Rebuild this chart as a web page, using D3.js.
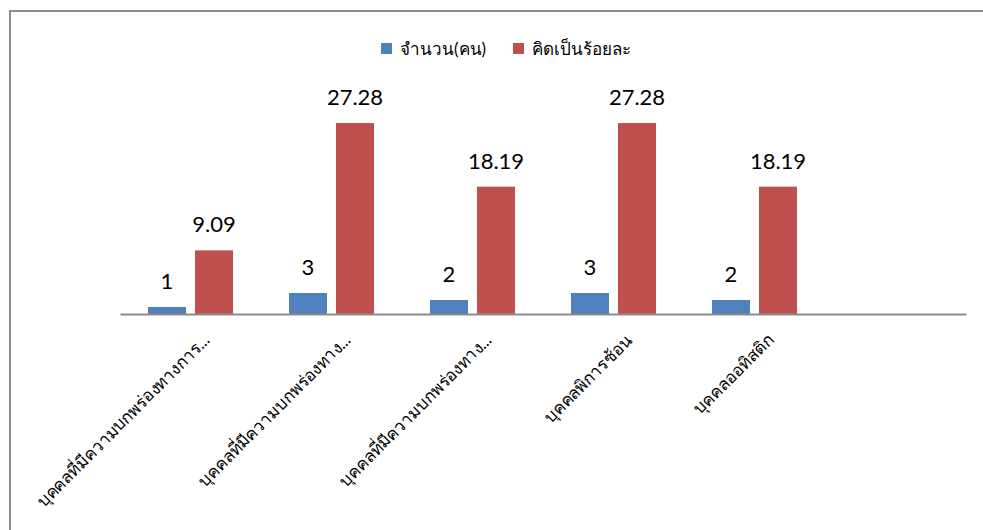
<!DOCTYPE html>
<html>
<head>
<meta charset="utf-8">
<script src="https://cdn.jsdelivr.net/npm/d3@7"></script>
<style>
  body { margin: 0; background: #fff; }
  text { font-family: Lato, "Noto Sans", "DejaVu Sans", sans-serif; }
</style>
</head>
<body>
<div id="chart"></div>
<script>
// Data
const categories = [
    "บุคคลที่มีความบกพร่องทางการ...",
    "บุคคลที่มีความบกพร่องทาง...",
    "บุคคลที่มีความบกพร่องทาง...",
    "บุคคลพิการซ้อน",
    "บุคคลออทิสติก",
    ""
];
const seriesNames = ["จำนวน(คน)", "คิดเป็นร้อยละ"];
const countValues = [1, 3, 2, 3, 2, null];
const percentValues = [9.09, 27.28, 18.19, 27.28, 18.19, null];
const percentLabels = ["9.09", "27.28", "18.19", "27.28", "18.19", ""];
const colors = ["#4F81BD", "#C0504D"];

const W = 983, H = 530;
const svg = d3.select("#chart")
    .append("svg")
    .attr("width", W)
    .attr("height", H);

// Outer frame
svg.append("rect")
    .attr("x", 10).attr("y", 11)
    .attr("width", 990).attr("height", 540)
    .attr("fill", "none")
    .attr("stroke", "#8c8c8c")
    .attr("stroke-width", 2);

const plot = { left: 120, right: 966, top: 104, bottom: 314 };

const x = d3.scaleBand()
    .domain(d3.range(categories.length))
    .range([plot.left, plot.right]);

const y = d3.scaleLinear()
    .domain([0, 30])
    .range([plot.bottom, plot.top]);

// bar layout inside each band
const barW = 38, gap = 9;
const offsets = [x.bandwidth() / 2 - gap / 2 - barW, x.bandwidth() / 2 + gap / 2];

const rows = categories.map((c, i) => ({ i, values: [countValues[i], percentValues[i]] }));

rows.forEach(r => {
    r.values.forEach((v, s) => {
        if (v == null) return;
        svg.append("rect")
            .attr("x", x(r.i) + offsets[s])
            .attr("y", y(v))
            .attr("width", barW)
            .attr("height", y(0) - y(v))
            .attr("fill", colors[s]);
        svg.append("text")
            .attr("x", x(r.i) + offsets[s] + barW / 2)
            .attr("y", y(v) - 18)
            .attr("text-anchor", "middle")
            .style("font-size", "22px")
            .style("fill", "#000")
            .text(s === 0 ? String(v) : percentLabels[r.i]);
    });
});

// X axis line
const xAxis = svg.append("g")
    .attr("transform", `translate(0,${plot.bottom})`)
    .call(d3.axisBottom(x).tickSize(0).tickFormat(i => categories[i]));
xAxis.select(".domain")
    .attr("stroke", "#8c8c8c")
    .attr("stroke-width", 2);
xAxis.selectAll("text")
    .attr("transform", "translate(16,23) rotate(-45)")
    .attr("dy", "0.35em")
    .attr("y", 0)
    .style("text-anchor", "end")
    .style("font-size", "17px")
    .style("font-family", "Lato, 'Noto Sans', 'DejaVu Sans', sans-serif")
    .style("fill", "#000");

// Legend
const legendX = [381, 513];
seriesNames.forEach((name, s) => {
    svg.append("rect")
        .attr("x", legendX[s]).attr("y", 43)
        .attr("width", 11).attr("height", 11)
        .attr("fill", colors[s]);
    svg.append("text")
        .attr("x", legendX[s] + 19).attr("y", 55)
        .style("font-size", "17px")
        .style("fill", "#000")
        .text(name);
});
</script>
</body>
</html>
